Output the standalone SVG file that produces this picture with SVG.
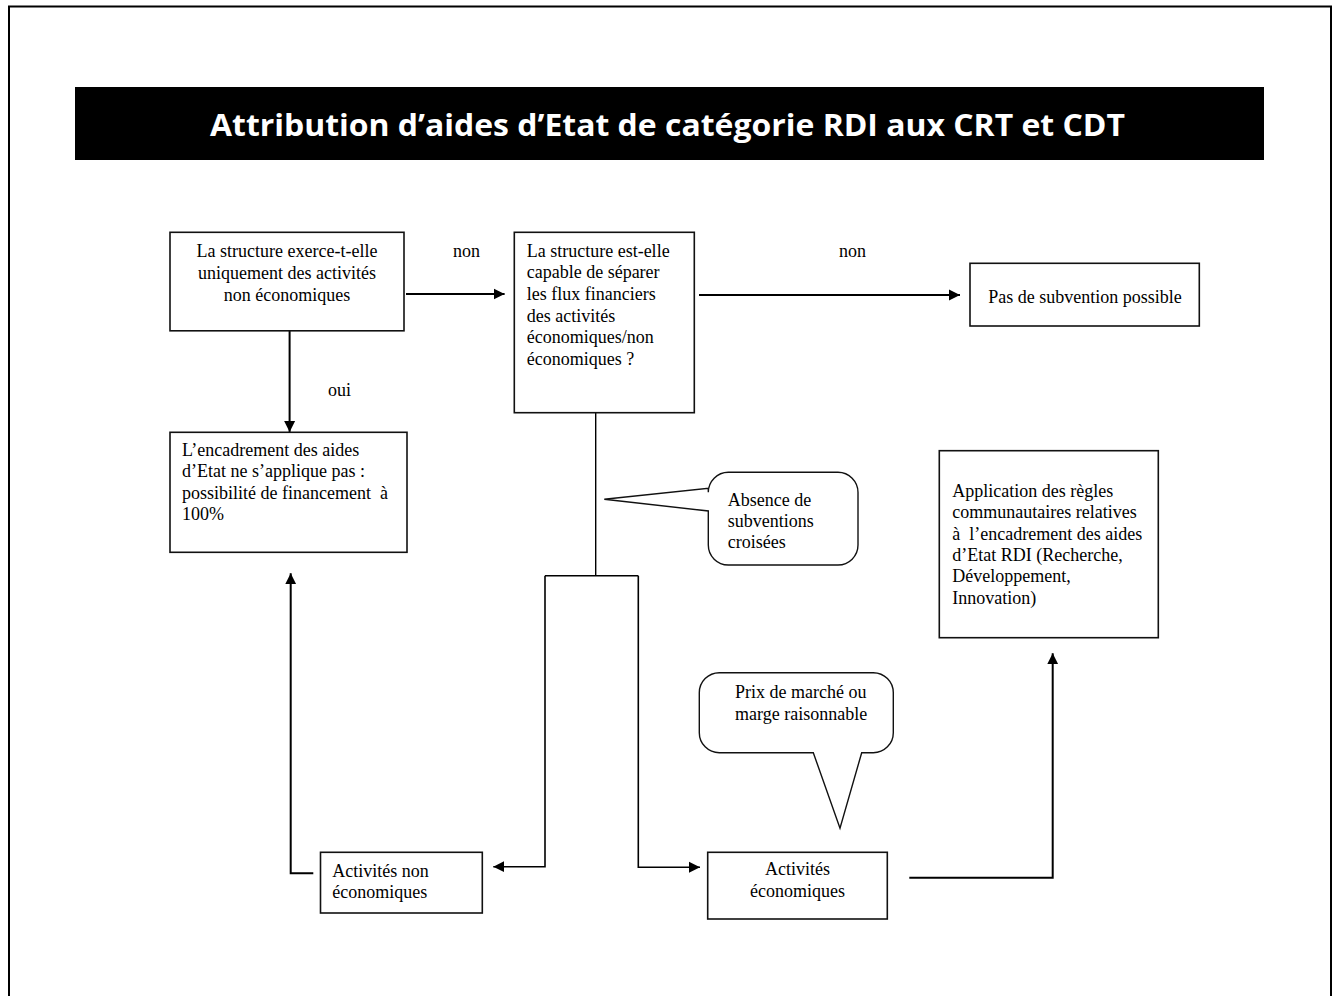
<svg xmlns="http://www.w3.org/2000/svg" width="1341" height="996" viewBox="0 0 1341 996">
<defs>
<style>
.box{fill:#fff;stroke:#111;stroke-width:1.6}
.call{fill:#fff;stroke:#111;stroke-width:1.4}
.t{font-family:"Liberation Serif","Times New Roman",serif;font-size:18px;fill:#000}
.c{text-anchor:middle}
.ln{fill:none;stroke:#000;stroke-width:2}
.thin{fill:none;stroke:#000;stroke-width:1.4}
</style>
<marker id="ah" markerUnits="userSpaceOnUse" markerWidth="12" markerHeight="12" refX="11" refY="6" orient="auto">
<path d="M0,0.5 L11,6 L0,11.5 Z" fill="#000"/>
</marker>
</defs>
<rect width="1341" height="996" fill="#fff"/>
<path d="M9,1000 V6.5 H1331 V1000" fill="none" stroke="#000" stroke-width="2"/>
<g id="title">
<rect x="75" y="87" width="1189" height="73" fill="#000"/>
<text x="667.5" y="136" text-anchor="middle" font-family="'Open Sans','Liberation Sans',sans-serif" font-weight="bold" font-size="30" fill="#fff" textLength="915" lengthAdjust="spacingAndGlyphs">Attribution d’aides d’Etat de catégorie RDI aux CRT et CDT</text>
</g>
<g id="connectors">
<path class="ln" d="M406,294 H504.6" marker-end="url(#ah)"/>
<path class="ln" d="M699,295 H960" marker-end="url(#ah)"/>
<path class="ln" d="M289.6,331 V432" marker-end="url(#ah)"/>
<path class="thin" d="M595.7,409 V575.7"/>
<path class="thin" d="M545,575.7 H638.3"/>
<path class="ln" d="M545,575.7 V866.7 H493.3" marker-end="url(#ah)" style="stroke-width:1.6"/>
<path class="ln" d="M638.3,575.7 V867.3 H700" marker-end="url(#ah)" style="stroke-width:1.6"/>
<path class="ln" d="M313.3,873.3 H290.7 V573.3" marker-end="url(#ah)"/>
<path class="ln" d="M909.3,877.7 H1052.7 V653.3" marker-end="url(#ah)"/>
<text class="t" x="453" y="257">non</text>
<text class="t" x="839" y="257">non</text>
<text class="t" x="328" y="396">oui</text>
</g>
<g id="n1">
<rect class="box" x="170" y="232.3" width="234" height="98.5"/>
<text class="t c" x="287" y="257">La structure exerce-t-elle</text>
<text class="t c" x="287" y="279">uniquement des activités</text>
<text class="t c" x="287" y="301">non économiques</text>
</g>
<g id="n2">
<rect class="box" x="514.3" y="232.3" width="180" height="180.4"/>
<text class="t" x="526.7" y="256.7">La structure est-elle</text>
<text class="t" x="526.7" y="278.3">capable de séparer</text>
<text class="t" x="526.7" y="299.9">les flux financiers</text>
<text class="t" x="526.7" y="321.5">des activités</text>
<text class="t" x="526.7" y="343.1">économiques/non</text>
<text class="t" x="526.7" y="364.7">économiques ?</text>
</g>
<g id="n3">
<rect class="box" x="970" y="263.3" width="229.3" height="62.7"/>
<text class="t c" x="1085" y="303">Pas de subvention possible</text>
</g>
<g id="n4">
<rect class="box" x="170" y="432.3" width="237" height="120"/>
<text class="t" x="182" y="455.5">L’encadrement des aides</text>
<text class="t" x="182" y="477">d’Etat ne s’applique pas :</text>
<text class="t" x="182" y="498.5">possibilité de financement&#160; à</text>
<text class="t" x="182" y="520">100%</text>
</g>
<g id="n5">
<rect class="box" x="939.3" y="450.7" width="219" height="187"/>
<text class="t" x="952.3" y="496.7">Application des règles</text>
<text class="t" x="952.3" y="518.1">communautaires relatives</text>
<text class="t" x="952.3" y="539.5">à&#160; l’encadrement des aides</text>
<text class="t" x="952.3" y="560.9">d’Etat RDI (Recherche,</text>
<text class="t" x="952.3" y="582.3">Développement,</text>
<text class="t" x="952.3" y="603.7">Innovation)</text>
</g>
<g id="n6">
<rect class="box" x="320.5" y="852.3" width="161.8" height="60.7"/>
<text class="t" x="332.3" y="876.7">Activités non</text>
<text class="t" x="332.3" y="898.3">économiques</text>
</g>
<g id="n7">
<rect class="box" x="707.7" y="852.3" width="179.6" height="66.7"/>
<text class="t c" x="797.5" y="875">Activités</text>
<text class="t c" x="797.5" y="897.3">économiques</text>
</g>
<g id="callout1">
<path class="call" d="M728.3,472.3 H838 A20,20 0 0 1 858,492.3 V545 A20,20 0 0 1 838,565 H728.3 A20,20 0 0 1 708.3,545 V511 L604.3,499.3 L708.3,488.3 V492.3 A20,20 0 0 1 728.3,472.3 Z"/>
<text class="t" x="727.7" y="505.7">Absence de</text>
<text class="t" x="727.7" y="526.7">subventions</text>
<text class="t" x="727.7" y="547.7">croisées</text>
</g>
<g id="callout2">
<path class="call" d="M719.3,672.7 H873.3 A20,20 0 0 1 893.3,692.7 V732.7 A20,20 0 0 1 873.3,752.7 H861.7 L840,828.3 L813.3,752.7 H719.3 A20,20 0 0 1 699.3,732.7 V692.7 A20,20 0 0 1 719.3,672.7 Z"/>
<text class="t" x="735" y="698.3">Prix de marché ou</text>
<text class="t" x="735" y="720">marge raisonnable</text>
</g>
</svg>
